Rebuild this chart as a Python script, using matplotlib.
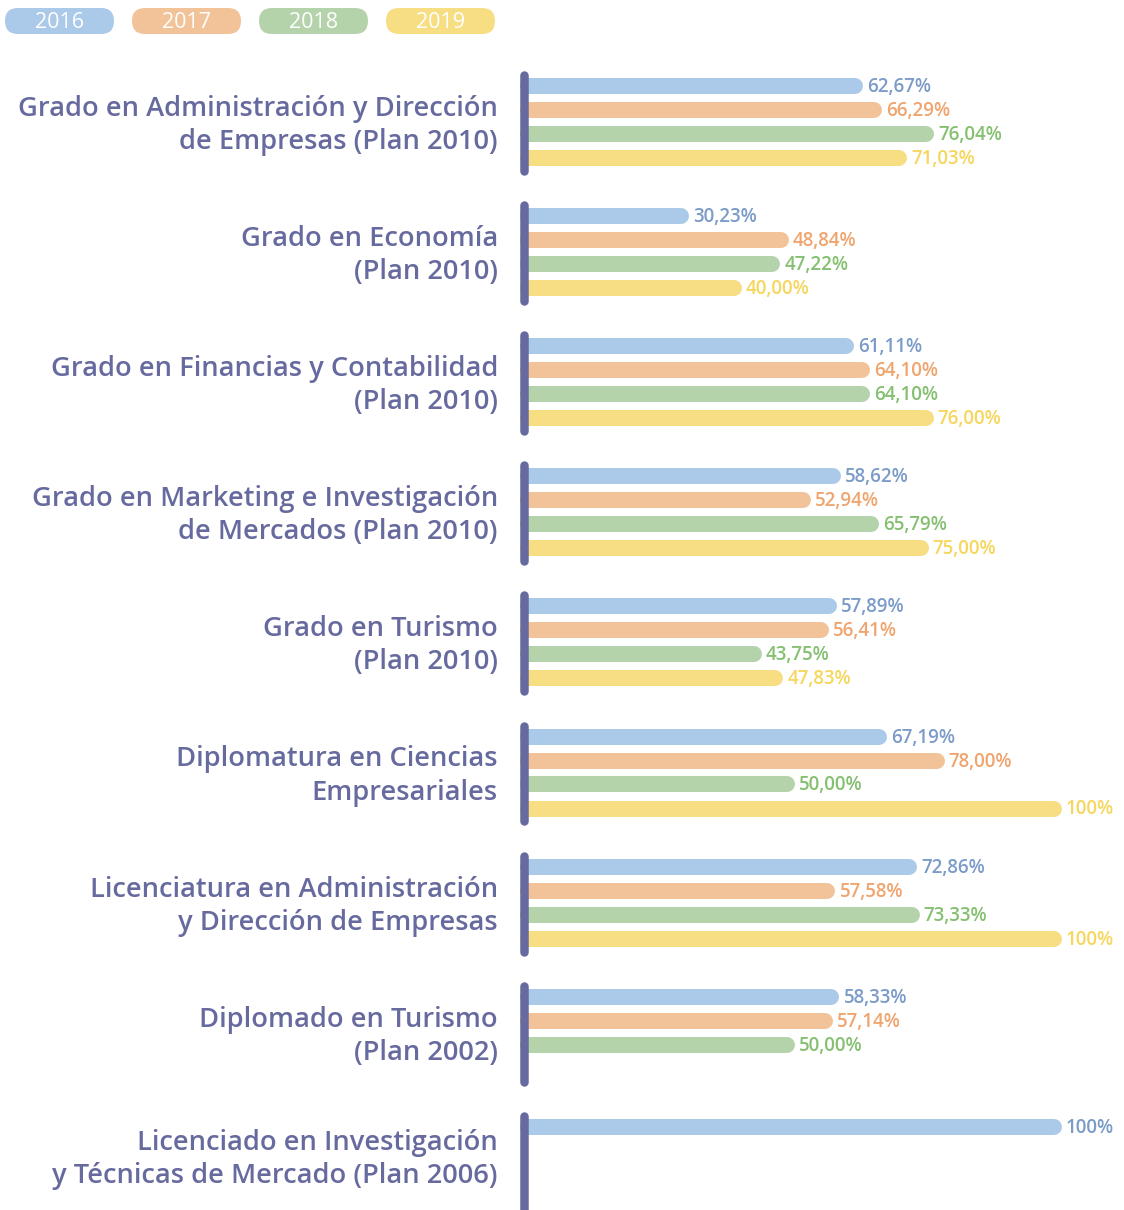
import matplotlib
matplotlib.use('Agg')
import matplotlib.pyplot as plt
import matplotlib.patches as patches
import numpy as np

# tasas por titulación y curso (None = sin dato)
titulaciones = [
    'Grado en Administración y Dirección\nde Empresas (Plan 2010)',
    'Grado en Economía\n(Plan 2010)',
    'Grado en Financias y Contabilidad\n(Plan 2010)',
    'Grado en Marketing e Investigación\nde Mercados (Plan 2010)',
    'Grado en Turismo\n(Plan 2010)',
    'Diplomatura en Ciencias\nEmpresariales',
    'Licenciatura en Administración\ny Dirección de Empresas',
    'Diplomado en Turismo\n(Plan 2002)',
    'Licenciado en Investigación\ny Técnicas de Mercado (Plan 2006)',
]
cursos = ['2016', '2017', '2018', '2019']
v2016 = [62.67, 30.23, 61.11, 58.62, 57.89, 67.19, 72.86, 58.33, 100]
v2017 = [66.29, 48.84, 64.10, 52.94, 56.41, 78.00, 57.58, 57.14, None]
v2018 = [76.04, 47.22, 64.10, 65.79, 43.75, 50.00, 73.33, 50.00, None]
v2019 = [71.03, 40.00, 76.00, 75.00, 47.83, 100, 100, None, None]
series = [v2016, v2017, v2018, v2019]

color_barra = ['#abc9e8', '#f2c399', '#b5d3aa', '#f7de82']
color_texto = ['#7b9bc8', '#f0a46e', '#84c070', '#f6d65c']
color_eje = '#676a9e'

W, H, DPI = 1124, 1210, 100
fig = plt.figure(figsize=(W / DPI, H / DPI), dpi=DPI)

# ejes principales: x = porcentaje, y = grupos
x0_px, x100_px = 528, 1062
grupo_px = 130.1
centro0_px = 122
ax = fig.add_axes([x0_px / W, 0, (x100_px - x0_px) / W, 1])
ax.set_xlim(0, 100)
ax.set_ylim((H - centro0_px) / grupo_px, -centro0_px / grupo_px)
ax.set_axis_off()

px_x = 100 / (x100_px - x0_px)      # % por píxel
paso = 24 / grupo_px                 # separación entre barras
alto_px = 16
lw = alto_px * 72 / DPI
radio = alto_px / 2 * px_x

plt.rcParams['font.family'] = ['Open Sans', 'DejaVu Sans']

for i, nombre in enumerate(titulaciones):
    # línea vertical del grupo
    arriba = i - 47 / grupo_px
    abajo = i + 49 / grupo_px if i < len(titulaciones) - 1 else i + 2
    ax.plot([-4 * px_x, -4 * px_x], [arriba, abajo], color=color_eje,
            lw=8.5 * 72 / DPI, solid_capstyle='round', clip_on=False, zorder=3)
    # la última titulación queda algo más arriba
    dy = -3.5 if i < len(titulaciones) - 1 else 3
    ax.annotate(nombre, xy=(0, i), xytext=(-30, dy), textcoords='offset pixels',
                ha='right', va='center', ma='right', fontsize=19.6,
                fontweight='semibold', color=color_eje, linespacing=1.24,
                annotation_clip=False)
    for j, vals in enumerate(series):
        v = vals[i]
        if v is None:
            continue
        y = i + (j - 1.5) * paso
        ax.plot([0, v - radio], [y, y], color=color_barra[j], lw=lw,
                solid_capstyle='round', zorder=2, clip_on=False)
        txt = '100%' if v == 100 else f'{v:.2f}'.replace('.', ',') + '%'
        ax.annotate(txt, xy=(v, y), xytext=(4, -1), textcoords='offset pixels',
                    ha='left', va='center', fontsize=13.5, fontweight='semibold',
                    color=color_texto[j], annotation_clip=False)

# leyenda en forma de píldoras
lx = fig.add_axes([0, 1 - 50 / H, 1, 50 / H])
lx.set_xlim(0, W)
lx.set_ylim(50, 0)
lx.set_axis_off()
for k, curso in enumerate(cursos):
    left = 5 + k * 127
    lx.add_patch(patches.FancyBboxPatch((left, 8), 109, 26,
                 boxstyle='round,pad=0,rounding_size=13',
                 fc=color_barra[k], ec='none'))
    lx.text(left + 54.5, 23, curso, ha='center', va='center',
            fontsize=15.5, color='white')

fig.savefig('out.png', dpi=DPI)
